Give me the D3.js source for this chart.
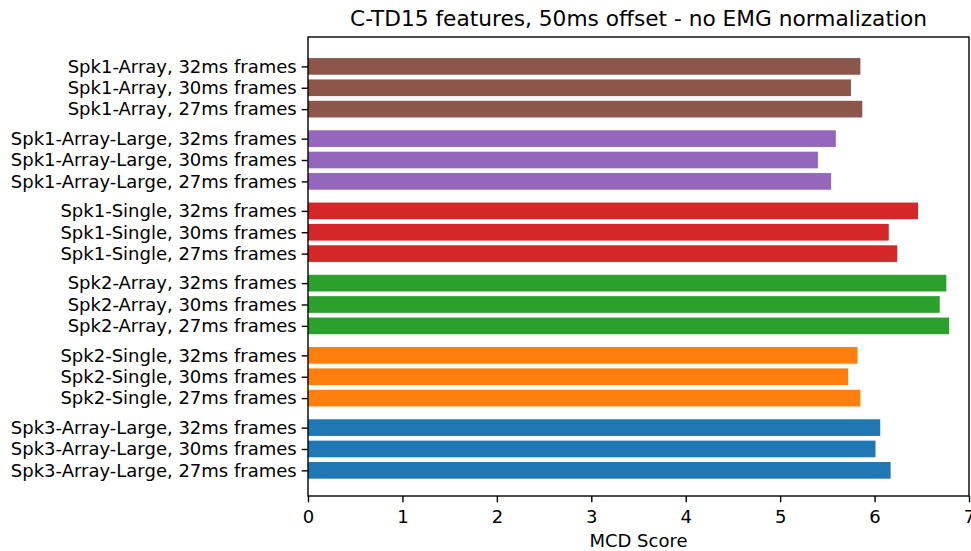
<!DOCTYPE html>
<html>
<head>
<meta charset="utf-8">
<script src="https://cdn.jsdelivr.net/npm/d3@7"></script>
<style>
  body { margin: 0; background: #fff; }
  text { font-family: "DejaVu Sans", sans-serif; fill: #000; }
</style>
</head>
<body>
<div id="chart"></div>
<script>
// groups from top to bottom, frames from top to bottom inside each group
var groups = ['Spk1-Array', 'Spk1-Array-Large', 'Spk1-Single', 'Spk2-Array', 'Spk2-Single', 'Spk3-Array-Large'];
var frames = ['32ms frames', '30ms frames', '27ms frames'];
var colors = ['#8c564b', '#9467bd', '#d62728', '#2ca02c', '#ff7f0e', '#1f77b4'];
var scores = [
  [5.85, 5.75, 5.87],
  [5.59, 5.40, 5.54],
  [6.46, 6.15, 6.24],
  [6.76, 6.69, 6.79],
  [5.82, 5.72, 5.85],
  [6.06, 6.01, 6.17]
];
var xTicks = [0, 1, 2, 3, 4, 5, 6, 7];

var width = 971, height = 551;
var plotLeft = 308, plotRight = 969, plotTop = 37, plotBottom = 496;
var groupStep = 3.38;

var bars = [];
groups.forEach(function(g, gi) {
  frames.forEach(function(f, fi) {
    bars.push({label: g + ', ' + f, value: scores[gi][fi], color: colors[gi], pos: gi * groupStep + fi});
  });
});

var svg = d3.select('#chart').append('svg')
    .attr('width', width)
    .attr('height', height);

var x = d3.scaleLinear().domain([0, 7]).range([plotLeft, plotRight]);
var y = d3.scaleLinear().domain([-1.375, 20.1]).range([plotTop, plotBottom]);
var barH = y(0.78) - y(0);

svg.append('g')
  .selectAll('rect')
  .data(bars)
  .enter().append('rect')
    .attr('x', x(0))
    .attr('y', function(d) { return y(d.pos) - barH / 2; })
    .attr('width', function(d) { return x(d.value) - x(0); })
    .attr('height', barH)
    .attr('fill', function(d) { return d.color; });

var xAxis = svg.append('g')
    .attr('transform', `translate(0,${plotBottom})`)
    .call(d3.axisBottom(x).tickValues(xTicks).tickFormat(d3.format('d')).tickSize(6.3).tickPadding(7.5));
xAxis.select('.domain').remove();
xAxis.selectAll('line').attr('stroke-width', 1.4);
xAxis.selectAll('text').style('font-size', '18px').attr('fill', '#000');

var yAxis = svg.append('g')
    .attr('transform', `translate(${plotLeft},0)`)
    .call(d3.axisLeft(y).tickValues(bars.map(function(d) { return d.pos; }))
      .tickFormat(function(d, i) { return bars[i].label; }).tickSize(6.3).tickPadding(5));
yAxis.select('.domain').remove();
yAxis.selectAll('line').attr('stroke-width', 1.4);
yAxis.selectAll('text').style('font-size', '18px').attr('fill', '#000');

svg.append('rect')
    .attr('x', plotLeft).attr('y', plotTop)
    .attr('width', plotRight - plotLeft).attr('height', plotBottom - plotTop)
    .attr('fill', 'none').attr('stroke', '#000').attr('stroke-width', 1.4);

svg.append('text')
    .attr('x', (plotLeft + plotRight) / 2).attr('y', 26)
    .attr('text-anchor', 'middle')
    .style('font-size', '21.7px')
    .text('C-TD15 features, 50ms offset - no EMG normalization');

svg.append('text')
    .attr('x', (plotLeft + plotRight) / 2).attr('y', 547)
    .attr('text-anchor', 'middle')
    .style('font-size', '18px')
    .text('MCD Score');
</script>
</body>
</html>
